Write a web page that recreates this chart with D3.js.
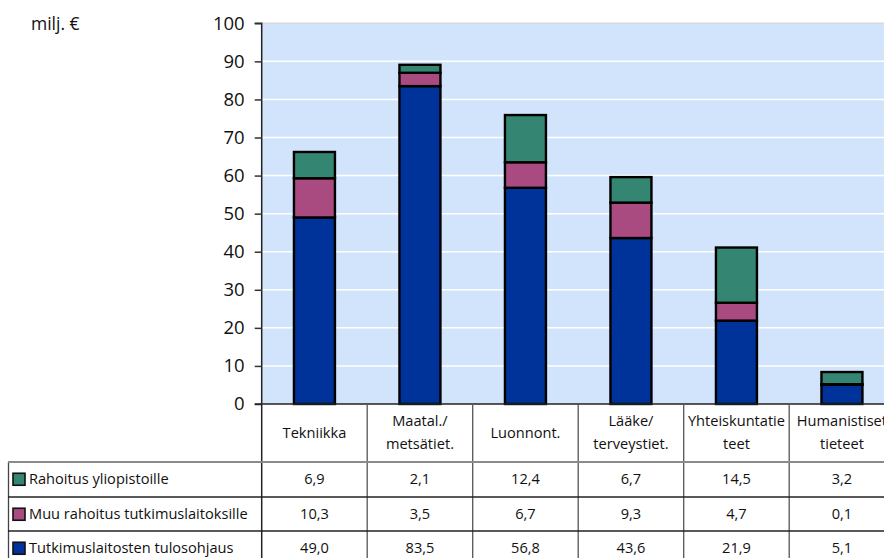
<!DOCTYPE html>
<html><head><meta charset="utf-8">
<script src="https://cdn.jsdelivr.net/npm/d3@7"></script>
<style>
html,body{margin:0;padding:0;background:#fff;overflow:hidden}
svg{display:block;font-family:"Open Sans",sans-serif}
</style></head>
<body>
<svg id="c" width="884" height="558"></svg>
<script>
const categories = [["Tekniikka"], ["Maatal./","metsätiet."], ["Luonnont."], ["Lääke/","terveystiet."], ["Yhteiskuntatie","teet"], ["Humanistiset","tieteet"]];
const seriesNames = ["Rahoitus yliopistoille", "Muu rahoitus tutkimuslaitoksille", "Tutkimuslaitosten tulosohjaus"];
const rahoitusYliopistoille = [6.9, 2.1, 12.4, 6.7, 14.5, 3.2];
const muuRahoitus = [10.3, 3.5, 6.7, 9.3, 4.7, 0.1];
const tulosohjaus = [49.0, 83.5, 56.8, 43.6, 21.9, 5.1];
const yTicks = [0, 10, 20, 30, 40, 50, 60, 70, 80, 90, 100];
const unitLabel = "milj. €";

const colors = ["#358573", "#a94a80", "#003399"];
const seriesValues = [rahoitusYliopistoille, muuRahoitus, tulosohjaus];

const svg = d3.select("#c");
const plotLeft = 261.7, bandW = 105.5, plotTop = 23.3, plotBottom = 404;
const keys = categories.map((c, i) => "c" + i);
const x = d3.scaleBand().domain(keys).range([plotLeft, plotLeft + bandW * keys.length]).paddingInner(0).paddingOuter(0);
const y = d3.scaleLinear().domain([0, 100]).range([plotBottom, plotTop]);

// plot background
svg.append("rect").attr("x", plotLeft).attr("y", plotTop).attr("width", 884 - plotLeft + 20).attr("height", plotBottom - plotTop).attr("fill", "#d2e4fb");
svg.append("line").attr("x1", plotLeft).attr("x2", 900).attr("y1", plotTop).attr("y2", plotTop).attr("stroke", "#d9d9d9").attr("stroke-width", 1.5);
// gridlines
svg.append("g").selectAll("line").data(yTicks.filter(t => t > 0 && t < 100)).join("line")
  .attr("x1", plotLeft).attr("x2", 900).attr("y1", d => y(d)).attr("y2", d => y(d))
  .attr("stroke", "#ffffff").attr("stroke-width", 1.5);

// stacked data
const rows = keys.map((k, i) => ({key: k, s2: tulosohjaus[i], s1: muuRahoitus[i], s0: rahoitusYliopistoille[i]}));
const stack = d3.stack().keys(["s2", "s1", "s0"])(rows);
const colorBy = {s0: colors[0], s1: colors[1], s2: colors[2]};
const bw = 41;
stack.forEach(layer => {
  svg.append("g").selectAll("rect").data(layer).join("rect")
    .attr("x", d => x(d.data.key) + x.bandwidth() / 2 - bw / 2)
    .attr("y", d => y(d[1]))
    .attr("width", bw)
    .attr("height", d => Math.max(0, y(d[0]) - y(d[1])))
    .attr("fill", colorBy[layer.key])
    .attr("stroke", "#000").attr("stroke-width", 2.4);
});

// y axis
const yAxis = d3.axisLeft(y).tickValues(yTicks).tickSize(7).tickPadding(10).tickFormat(d3.format("d"));
const ga = svg.append("g").attr("transform", `translate(${plotLeft},0)`).call(yAxis);
ga.select(".domain").attr("stroke", "#222").attr("stroke-width", 1.5).attr("d", `M-7,${plotTop}H0V${plotBottom}`);
ga.selectAll(".tick line").attr("stroke", "#333").attr("stroke-width", 1.5);
ga.selectAll(".tick text").attr("font-size", 18.5).attr("fill", "#111").attr("font-family", "Open Sans, sans-serif");

svg.append("text").attr("x", 31).attr("y", 30).attr("font-size", 17.5).attr("fill", "#111").text(unitLabel);

// table
const rowTop = [462, 497, 531];
const rowH = 34.5;
const fs = 14.6;
const tbl = svg.append("g");
tbl.append("line").attr("x1", plotLeft).attr("x2", plotLeft).attr("y1", plotBottom).attr("y2", 558).attr("stroke", "#222").attr("stroke-width", 1.5);
tbl.append("line").attr("x1", plotLeft - 7).attr("x2", 900).attr("y1", plotBottom).attr("y2", plotBottom).attr("stroke", "#222").attr("stroke-width", 1.5);
tbl.selectAll("line.col").data(keys.slice(1)).join("line").attr("class", "col")
  .attr("x1", d => x(d)).attr("x2", d => x(d)).attr("y1", plotBottom).attr("y2", 558)
  .attr("stroke", "#555").attr("stroke-width", 1.3);
tbl.append("line").attr("x1", 8.5).attr("x2", 8.5).attr("y1", rowTop[0]).attr("y2", 558).attr("stroke", "#444").attr("stroke-width", 1.3);
tbl.append("line").attr("x1", 8).attr("x2", 900).attr("y1", rowTop[0]).attr("y2", rowTop[0]).attr("stroke", "#8a8a8a").attr("stroke-width", 2);
tbl.selectAll("line.row").data(rowTop.slice(1)).join("line").attr("class", "row")
  .attr("x1", 8).attr("x2", 900).attr("y1", d => d).attr("y2", d => d).attr("stroke", "#222").attr("stroke-width", 1.3);

categories.forEach((lines, i) => {
  const cx = x(keys[i]) + x.bandwidth() / 2;
  const t = tbl.append("text").attr("text-anchor", "middle").attr("font-size", fs).attr("fill", "#111");
  const y0 = lines.length === 1 ? 438 : 426;
  lines.forEach((ln, j) => t.append("tspan").attr("x", cx).attr("y", y0 + j * 23).text(ln));
});

const fmt = v => d3.format(".1f")(v).replace(".", ",");
seriesNames.forEach((name, r) => {
  const cy = rowTop[r] + rowH / 2;
  tbl.append("rect").attr("x", 13).attr("y", cy - 6).attr("width", 12).attr("height", 12)
    .attr("fill", colors[r]).attr("stroke", "#111").attr("stroke-width", 1.6);
  tbl.append("text").attr("x", 29).attr("y", cy + 5).attr("font-size", fs).attr("fill", "#111").text(name);
  tbl.selectAll(null).data(seriesValues[r]).join("text")
    .attr("x", (d, i) => x(keys[i]) + x.bandwidth() / 2)
    .attr("y", cy + 5).attr("text-anchor", "middle").attr("font-size", fs).attr("fill", "#111")
    .text(d => fmt(d));
});
</script>
</body></html>
